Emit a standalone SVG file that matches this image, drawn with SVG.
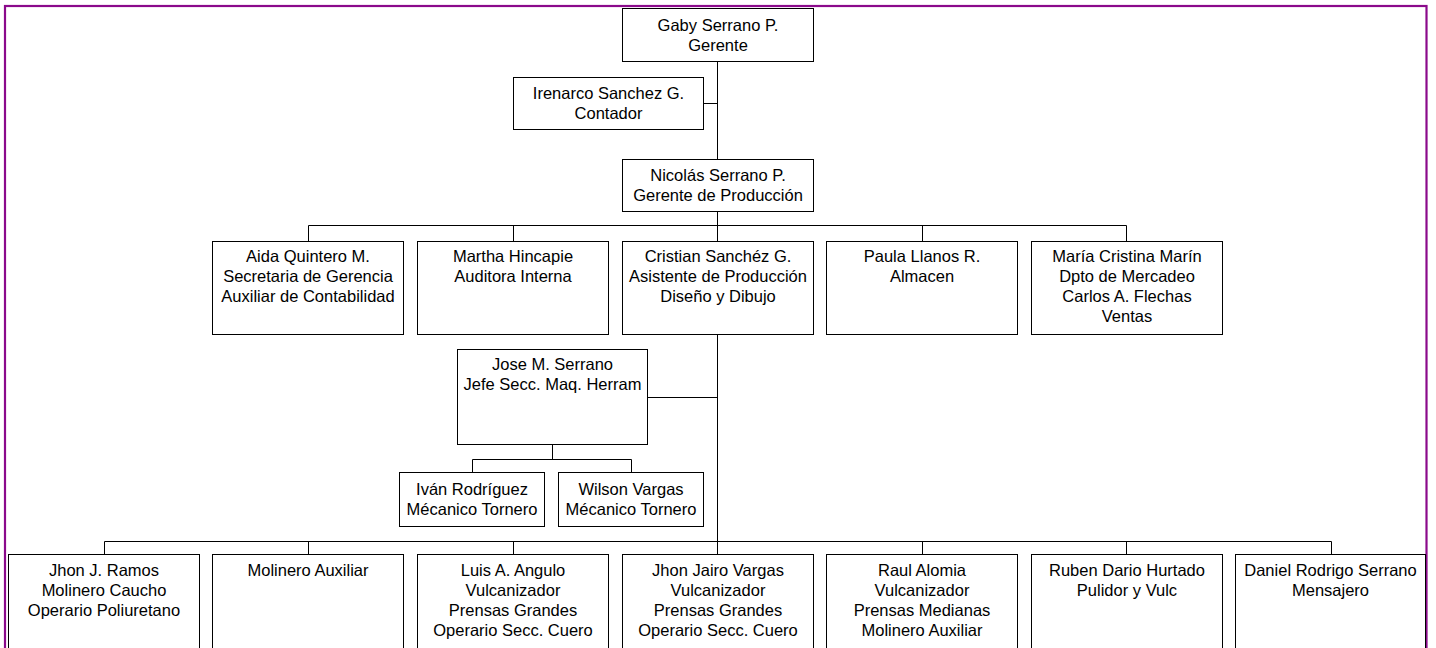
<svg xmlns="http://www.w3.org/2000/svg" width="1436" height="648" viewBox="0 0 1436 648">
<style>
.box{fill:#fff;stroke:#000;stroke-width:1}
.ln{fill:none;stroke:#000;stroke-width:1}
text{font-family:"Liberation Sans",Arial,sans-serif;font-size:16.5px;fill:#000;text-anchor:middle}
</style>
<rect x="0" y="0" width="1436" height="648" fill="#fff"/>
<rect x="5" y="6" width="1421.5" height="700" fill="none" stroke="#8b0a8b" stroke-width="2.2"/>
<g id="connectors">
<path class="ln" d="M717.5 61.5V159.5M703.5 103.5H717.5"/>
<path class="ln" d="M717.5 211.5V225.5M308.5 225.5H1126.5M308.5 225.5V241.5M513.5 225.5V241.5M717.5 225.5V241.5M922.5 225.5V241.5M1126.5 225.5V241.5"/>
<path class="ln" d="M717.5 334.5V541.5M647.5 397.5H717.5"/>
<path class="ln" d="M552.5 444.5V459.5M472.5 459.5H631.5M472.5 459.5V472.5M631.5 459.5V472.5"/>
<path class="ln" d="M104.5 541.5H1331.5M104.5 541.5V554.5M308.5 541.5V554.5M513.5 541.5V554.5M717.5 541.5V554.5M922.5 541.5V554.5M1126.5 541.5V554.5M1331.5 541.5V554.5"/>
</g>
<g id="gaby"><rect class="box" x="622.5" y="8.5" width="191" height="53"/><text x="718" y="30.5">Gaby Serrano P.</text><text x="718" y="50.5">Gerente</text></g>
<g id="irenarco"><rect class="box" x="513.5" y="77.5" width="190" height="52"/><text x="608.5" y="99">Irenarco Sanchez G.</text><text x="608.5" y="119">Contador</text></g>
<g id="nicolas"><rect class="box" x="622.5" y="159.5" width="191" height="52"/><text x="718" y="181">Nicolás Serrano P.</text><text x="718" y="201">Gerente de Producción</text></g>
<g id="aida"><rect class="box" x="212.5" y="241.5" width="191" height="93"/><text x="308" y="262">Aida Quintero M.</text><text x="308" y="282">Secretaria de Gerencia</text><text x="308" y="302">Auxiliar de Contabilidad</text></g>
<g id="martha"><rect class="box" x="417.5" y="241.5" width="191" height="93"/><text x="513" y="262">Martha Hincapie</text><text x="513" y="282">Auditora Interna</text></g>
<g id="cristian"><rect class="box" x="622.5" y="241.5" width="191" height="93"/><text x="718" y="262">Cristian Sanchéz G.</text><text x="718" y="282">Asistente de Producción</text><text x="718" y="302">Diseño y Dibujo</text></g>
<g id="paula"><rect class="box" x="826.5" y="241.5" width="191" height="93"/><text x="922" y="262">Paula Llanos R.</text><text x="922" y="282">Almacen</text></g>
<g id="maria"><rect class="box" x="1031.5" y="241.5" width="191" height="93"/><text x="1127" y="262">María Cristina Marín</text><text x="1127" y="282">Dpto de Mercadeo</text><text x="1127" y="302">Carlos A. Flechas</text><text x="1127" y="322">Ventas</text></g>
<g id="jose"><rect class="box" x="457.5" y="349.5" width="190" height="95"/><text x="552.5" y="370">Jose M. Serrano</text><text x="552.5" y="390">Jefe Secc. Maq. Herram</text></g>
<g id="ivan"><rect class="box" x="399.5" y="472.5" width="145" height="54"/><text x="472" y="495">Iván Rodríguez</text><text x="472" y="515">Mécanico Tornero</text></g>
<g id="wilson"><rect class="box" x="558.5" y="472.5" width="145" height="54"/><text x="631" y="495">Wilson Vargas</text><text x="631" y="515">Mécanico Tornero</text></g>
<g id="jhon-ramos"><rect class="box" x="8.5" y="554.5" width="191" height="120"/><text x="104" y="576">Jhon J. Ramos</text><text x="104" y="596">Molinero Caucho</text><text x="104" y="616">Operario Poliuretano</text></g>
<g id="molinero"><rect class="box" x="212.5" y="554.5" width="191" height="120"/><text x="308" y="576">Molinero Auxiliar</text></g>
<g id="luis"><rect class="box" x="417.5" y="554.5" width="191" height="120"/><text x="513" y="576">Luis A. Angulo</text><text x="513" y="596">Vulcanizador</text><text x="513" y="616">Prensas Grandes</text><text x="513" y="636">Operario Secc. Cuero</text></g>
<g id="jhon-jairo"><rect class="box" x="622.5" y="554.5" width="191" height="120"/><text x="718" y="576">Jhon Jairo Vargas</text><text x="718" y="596">Vulcanizador</text><text x="718" y="616">Prensas Grandes</text><text x="718" y="636">Operario Secc. Cuero</text></g>
<g id="raul"><rect class="box" x="826.5" y="554.5" width="191" height="120"/><text x="922" y="576">Raul Alomia</text><text x="922" y="596">Vulcanizador</text><text x="922" y="616">Prensas Medianas</text><text x="922" y="636">Molinero Auxiliar</text></g>
<g id="ruben"><rect class="box" x="1031.5" y="554.5" width="191" height="120"/><text x="1127" y="576">Ruben Dario Hurtado</text><text x="1127" y="596">Pulidor y Vulc</text></g>
<g id="daniel"><rect class="box" x="1235.5" y="554.5" width="190" height="120"/><text x="1330.5" y="576">Daniel Rodrigo Serrano</text><text x="1330.5" y="596">Mensajero</text></g>
</svg>
